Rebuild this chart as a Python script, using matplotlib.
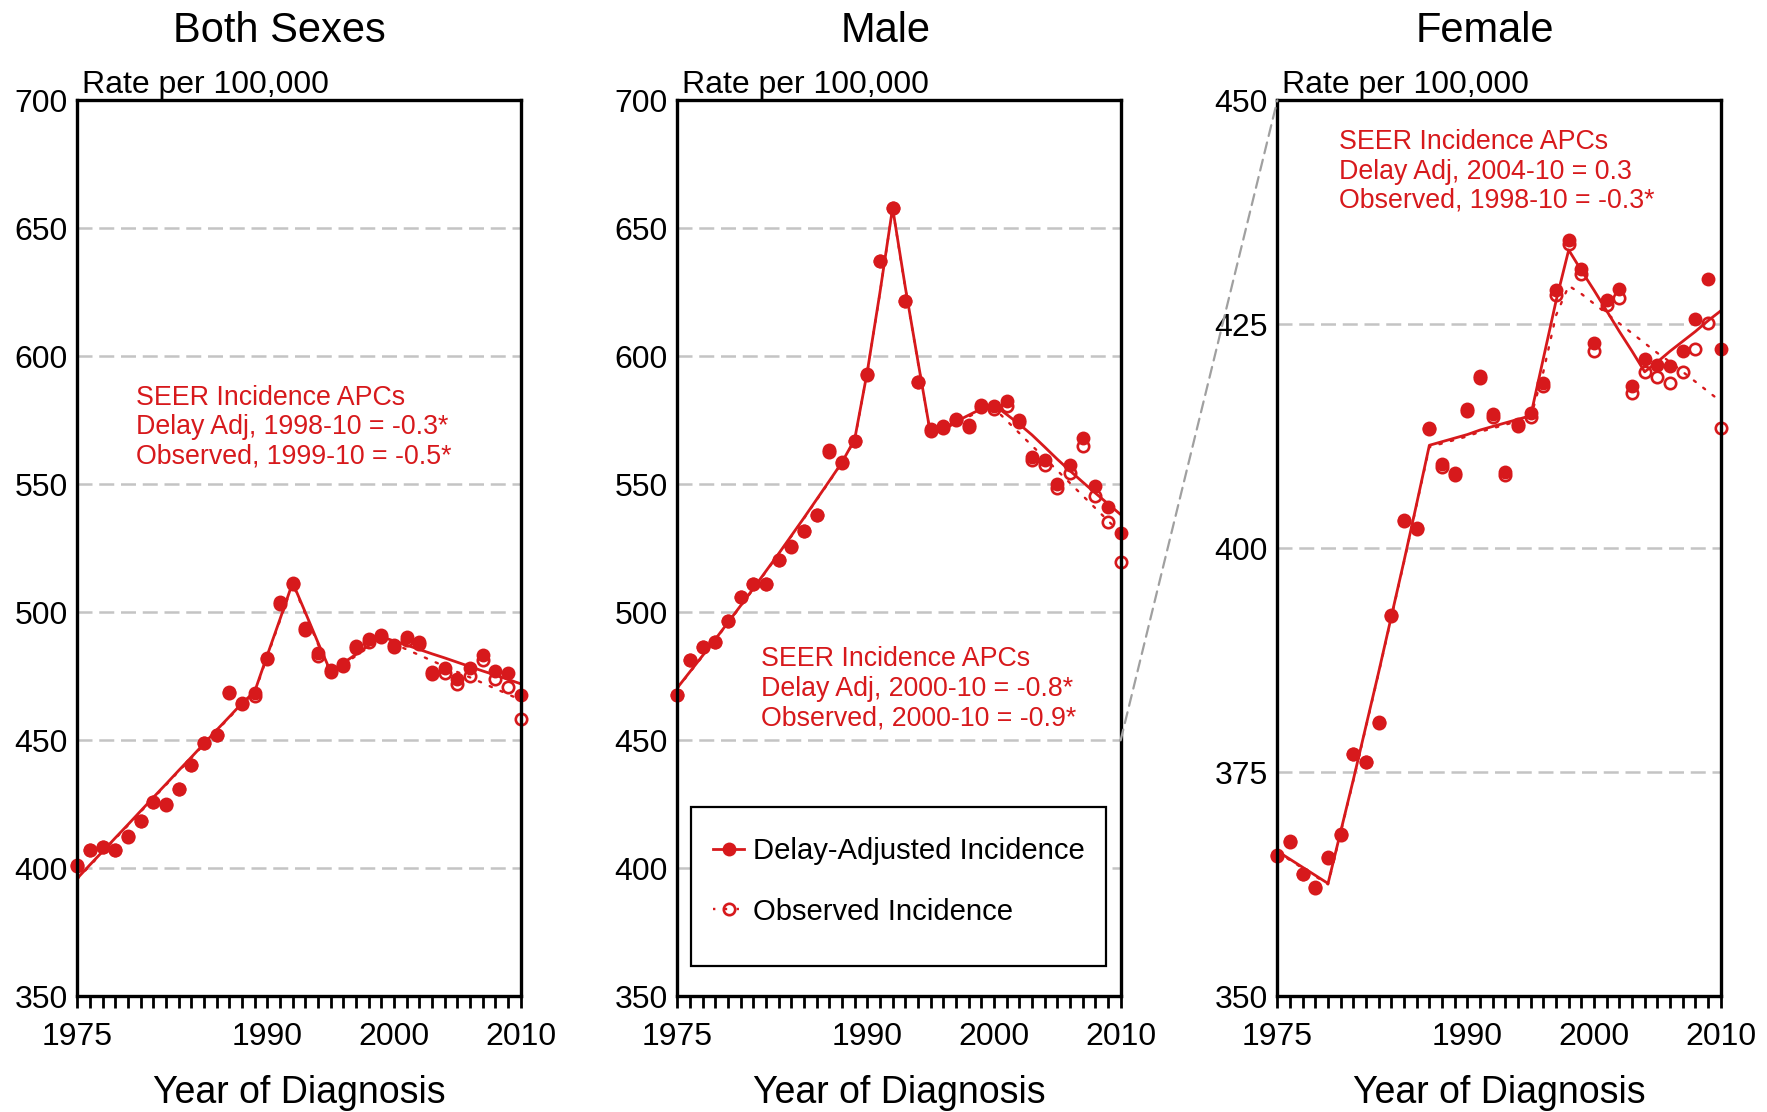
import numpy as np
import matplotlib.pyplot as plt
from matplotlib.lines import Line2D
from matplotlib.patches import ConnectionPatch, Rectangle

plt.rcParams['font.family'] = ['Liberation Sans', 'DejaVu Sans']

# ---------------------------------------------------------------- dados (taxa por 100.000)
anos = np.arange(1975, 2011)

ambos_ajust = [401.2, 407.2, 408.5, 407.2, 412.5, 418.6, 426.0, 425.0, 431.1, 440.5, 449.0, 452.1,
               468.8, 464.5, 468.4, 482.3, 503.9, 511.6, 493.8, 484.2, 477.5, 479.7, 486.8, 489.6,
               491.1, 487.2, 490.2, 488.5, 476.8, 478.1, 474.0, 478.1, 483.3, 477.1, 476.2, 467.7]
ambos_obs = [401.0, 407.0, 408.3, 407.0, 412.3, 418.4, 425.8, 424.8, 430.9, 440.3, 448.8, 451.9,
             468.5, 464.2, 467.3, 481.9, 503.1, 511.0, 493.0, 483.1, 476.8, 479.0, 485.9, 488.5,
             490.5, 486.3, 489.2, 487.6, 475.9, 476.2, 471.9, 475.1, 481.4, 474.0, 471.0, 458.3]
ambos_ajust_fit = [396.1, 401.4, 406.6, 411.9, 417.1, 422.4, 427.7, 432.9, 438.2, 443.4, 448.7, 454.0,
                   459.2, 464.5, 469.0, 483.3, 497.3, 511.6, 500.0, 488.2, 476.8, 480.2, 483.6, 487.0,
                   490.5, 488.8, 487.2, 485.5, 483.8, 482.2, 480.5, 478.8, 477.1, 475.5, 473.8, 472.1]
ambos_obs_fit = [395.8, 401.1, 406.3, 411.6, 416.8, 422.1, 427.4, 432.6, 437.9, 443.1, 448.4, 453.7,
                 458.9, 464.2, 468.6, 482.8, 496.8, 511.0, 499.4, 487.6, 476.2, 479.6, 483.0, 486.4,
                 489.9, 487.7, 485.5, 483.3, 481.1, 478.9, 476.7, 474.6, 472.4, 470.2, 468.0, 465.8]

homem_ajust = [467.8, 481.4, 486.5, 488.5, 496.8, 506.1, 511.2, 511.2, 520.6, 525.9, 531.9, 538.2,
               563.6, 558.6, 567.0, 592.9, 637.4, 658.1, 621.8, 590.0, 571.8, 572.6, 575.7, 573.3,
               580.9, 580.6, 582.4, 575.0, 560.6, 559.5, 550.2, 557.7, 568.0, 549.3, 541.3, 531.0]
homem_obs = [467.6, 481.2, 486.3, 488.3, 496.6, 505.9, 511.0, 511.0, 520.4, 525.7, 531.7, 538.0,
             562.6, 558.4, 566.8, 592.7, 637.2, 657.9, 621.6, 589.8, 571.0, 572.0, 575.0, 572.2,
             580.2, 579.3, 580.4, 574.2, 559.5, 557.7, 548.6, 554.6, 564.9, 545.3, 535.2, 519.5]
homem_ajust_fit = [470.5, 476.8, 483.1, 489.5, 496.0, 502.6, 509.3, 516.1, 522.9, 529.9, 536.9, 544.1,
                   551.3, 558.6, 567.5, 594.0, 625.0, 658.0, 627.0, 598.0, 569.5, 572.0, 574.5, 577.0,
                   579.5, 581.0, 577.3, 573.5, 569.3, 564.6, 559.8, 555.3, 550.9, 546.6, 542.4, 538.2]
homem_obs_fit = [470.3, 476.6, 482.9, 489.3, 495.8, 502.4, 509.1, 515.9, 522.7, 529.7, 536.7, 543.9,
                 551.1, 558.4, 567.3, 593.8, 624.8, 657.8, 626.6, 597.6, 569.0, 571.4, 573.9, 576.4,
                 578.9, 579.8, 574.9, 570.0, 565.1, 560.3, 555.4, 550.5, 545.6, 540.7, 535.8, 530.9]

mulher_ajust = [365.8, 367.3, 363.7, 362.2, 365.5, 368.1, 377.1, 376.2, 380.6, 392.6, 403.2, 402.3,
                413.4, 409.4, 408.4, 415.6, 419.2, 415.0, 408.5, 413.9, 415.1, 418.4, 428.8, 434.4,
                431.2, 422.9, 427.7, 428.9, 418.1, 421.1, 420.5, 420.3, 422.0, 425.6, 430.1, 422.3]
mulher_obs = [365.7, 367.2, 363.6, 362.1, 365.4, 368.0, 377.0, 376.1, 380.5, 392.5, 403.1, 402.2,
              413.3, 409.1, 408.2, 415.3, 419.0, 414.7, 408.2, 413.6, 414.7, 418.1, 428.3, 434.0,
              430.6, 422.0, 427.1, 427.9, 417.3, 419.7, 419.1, 418.5, 419.7, 422.3, 425.2, 413.4]
mulher_ajust_fit = [366.2, 365.3, 364.4, 363.5, 362.6, 368.4, 374.2, 380.2, 386.2, 392.4, 398.6, 405.0,
                    411.5, 411.9, 412.3, 412.7, 413.2, 413.6, 414.0, 414.4, 414.8, 421.2, 427.6, 433.3,
                    431.0, 428.8, 426.5, 424.2, 422.0, 419.7, 420.8, 422.0, 423.1, 424.2, 425.4, 426.5]
mulher_obs_fit = [366.1, 365.2, 364.3, 363.4, 362.5, 368.3, 374.1, 380.1, 386.1, 392.3, 398.5, 404.9,
                  411.3, 411.7, 412.1, 412.5, 413.0, 413.4, 413.8, 414.2, 414.6, 419.7, 426.0, 429.3,
                  428.4, 427.3, 426.2, 425.1, 424.0, 422.9, 421.8, 420.8, 419.7, 418.6, 417.5, 416.4]

titulos = ['Both Sexes', 'Male', 'Female']
textos_apc = [
    ['SEER Incidence APCs', 'Delay Adj, 1998-10 = -0.3*', 'Observed, 1999-10 = -0.5*'],
    ['SEER Incidence APCs', 'Delay Adj, 2000-10 = -0.8*', 'Observed, 2000-10 = -0.9*'],
    ['SEER Incidence APCs', 'Delay Adj, 2004-10 = 0.3', 'Observed, 1998-10 = -0.3*'],
]
limites_y = [(350, 700, 50), (350, 700, 50), (350, 450, 25)]
rotulos_x = [1975, 1990, 2000, 2010]


################################################################################

VERMELHO = '#d7191c'
PONTILHADO = (0, (1, 4))


def desenhar_painel(ax, ajust, obs, ajust_fit, obs_fit, lim, apc, pos_apc):
    ax.plot(anos, obs_fit, color=VERMELHO, lw=1.7, ls=PONTILHADO, dash_capstyle='round')
    ax.plot(anos, ajust_fit, color=VERMELHO, lw=2.0)
    ax.plot(anos, obs, 'o', ms=8.2, mfc='none', mec=VERMELHO, mew=1.9, clip_on=False)
    ax.plot(anos, ajust, 'o', ms=10, color=VERMELHO, mew=0, clip_on=False)

    ax.set_xlim(1975, 2010)
    ax.set_ylim(lim[0], lim[1])
    ax.set_yticks(np.arange(lim[0], lim[1] + 1, lim[2]))
    ax.set_xticks(rotulos_x)
    ax.set_xticks(anos, minor=True)
    ax.tick_params(axis='x', which='both', direction='out', length=8.6, width=2,
                   labelsize=23, pad=10)
    ax.tick_params(axis='y', length=0, labelsize=23, pad=7)
    ax.yaxis.grid(True, color='#c4c4c4', lw=1.8, ls=(0, (6, 2.7)))
    ax.set_axisbelow(True)
    for s in ax.spines.values():
        s.set_linewidth(2.4)
        s.set_zorder(6)

    ax.text(0.01, 1.008, 'Rate per 100,000', transform=ax.transAxes,
            fontsize=23, va='baseline', ha='left')
    ax.text(0.5, -0.119, 'Year of Diagnosis', transform=ax.transAxes,
            fontsize=27, va='baseline', ha='center')

    x0, ys = pos_apc
    for linha, y in zip(apc, ys):
        ax.text(x0, y, linha, transform=ax.transAxes, color=VERMELHO,
                fontsize=19.3, va='center', ha='left')


fig = plt.figure(figsize=(17.67, 11.12), dpi=100)
lefts = [0.04375, 0.3833, 0.7229]
eixos = [fig.add_axes([l, 0.1040, 0.2509, 0.8058]) for l in lefts]

series = [
    (ambos_ajust, ambos_obs, ambos_ajust_fit, ambos_obs_fit),
    (homem_ajust, homem_obs, homem_ajust_fit, homem_obs_fit),
    (mulher_ajust, mulher_obs, mulher_ajust_fit, mulher_obs_fit),
]
pos_apc = [
    (0.1333, [0.6675, 0.6355, 0.6025]),
    (0.188, [0.3765, 0.3435, 0.3105]),
    (0.1387, [0.9535, 0.9205, 0.8885]),
]

for ax, s, lim, apc, pos in zip(eixos, series, limites_y, textos_apc, pos_apc):
    desenhar_painel(ax, *s, lim, apc, pos)

# titulos
for x, t in zip([0.1582, 0.5013, 0.8403], titulos):
    fig.text(x, 0.9625, t, fontsize=30, ha='center', va='baseline')

# legenda no painel masculino: caixa desenhada a parte
caixa = Rectangle((0.0306, 0.034), 0.936, 0.1774, transform=eixos[1].transAxes,
                  facecolor='white', edgecolor='black', lw=1.6, zorder=4.5)
eixos[1].add_patch(caixa)
alcas = [
    Line2D([], [], color=VERMELHO, lw=2.0, marker='o', ms=10, mew=0),
    Line2D([], [], color=VERMELHO, lw=1.7, ls=PONTILHADO, marker='o', ms=8.2,
           mfc='none', mec=VERMELHO, mew=1.9),
]
leg = eixos[1].legend(alcas, ['Delay-Adjusted Incidence', 'Observed Incidence'],
                      loc='center left', bbox_to_anchor=(0.0814, 0.1283),
                      borderaxespad=0, borderpad=0, frameon=False, fontsize=21.1,
                      handlelength=1.05, handletextpad=0.3, labelspacing=1.1, numpoints=1)
leg.set_zorder(5)

# linha de zoom entre masculino (350-450) e feminino
con = ConnectionPatch(xyA=(2010, 450), coordsA=eixos[1].transData,
                      xyB=(1975, 450), coordsB=eixos[2].transData,
                      color='#a0a0a0', lw=1.6, ls=(0, (5, 3)))
fig.add_artist(con)

fig.savefig('out.png', dpi=100)
